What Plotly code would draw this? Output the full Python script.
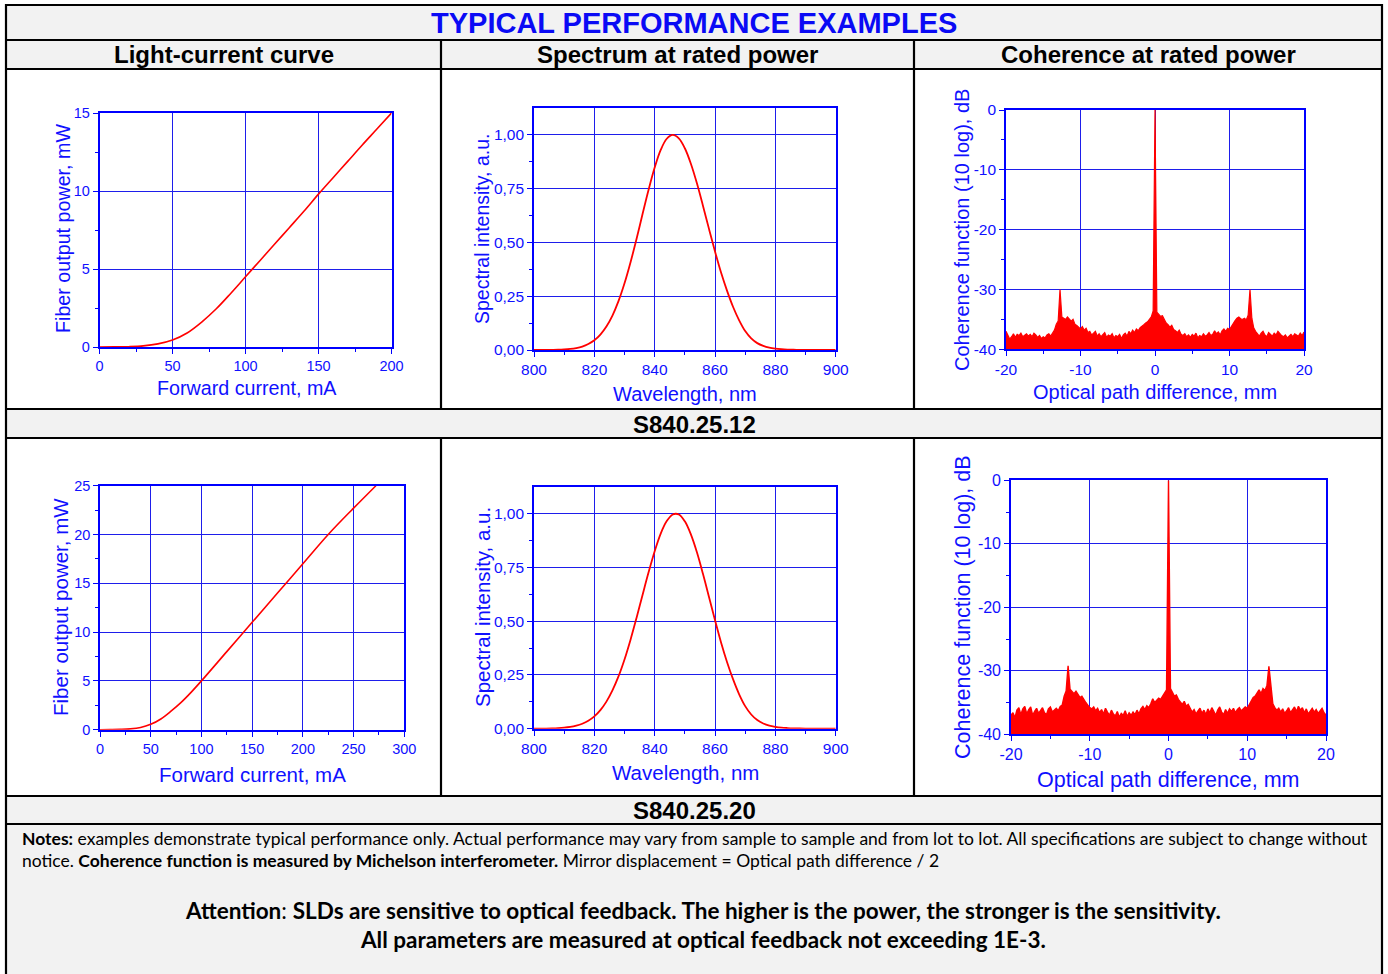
import numpy as np
import plotly.graph_objects as go

W, H = 1388, 974

# ---------------- data ----------------
li1_current = [0, 10, 20, 30, 40, 50, 60, 70, 80, 90, 100, 110, 120, 130, 140, 150, 160, 170, 180, 190, 200]
li1_power = [0, 0.005, 0.02, 0.07, 0.2, 0.45, 0.9, 1.6, 2.45, 3.45, 4.5, 5.55, 6.6, 7.65, 8.7, 9.8,
             10.85, 11.9, 12.95, 13.97, 15.0]

li2_current = [0, 10, 20, 30, 40, 50, 60, 70, 80, 90, 100, 125, 150, 175, 200, 225, 250, 272]
li2_power = [0, 0.01, 0.03, 0.08, 0.22, 0.55, 1.1, 1.9, 2.8, 3.85, 5.0, 8.0, 11.0, 14.0, 17.0, 20.0, 22.7, 25.0]

wavelength = [800, 802, 804, 806, 808, 810, 812, 814, 816, 818, 820, 822, 824, 826, 828, 830, 832, 834,
              836, 838, 840, 842, 844, 846, 848, 850, 852, 854, 856, 858, 860, 862, 864, 866, 868, 870,
              872, 874, 876, 878, 880, 882, 884, 886, 888, 890, 892, 894, 896, 898, 900]
spec1 = [0.0001, 0.00014, 0.0003, 0.00066, 0.0013, 0.0027, 0.005, 0.0092, 0.016, 0.0276, 0.045, 0.0716,
         0.109, 0.160, 0.227, 0.310, 0.408, 0.517, 0.633, 0.746, 0.848, 0.930, 0.982, 1.0, 0.984, 0.938,
         0.866, 0.775, 0.671, 0.563, 0.458, 0.360, 0.275, 0.200, 0.138, 0.088, 0.054, 0.032, 0.019, 0.011,
         0.0065, 0.0038, 0.0022, 0.0013, 0.0008, 0.0005, 0.0003, 0.0002, 0.0001, 0.0001, 0.0001]
spec2 = [0.0002, 0.0004, 0.0007, 0.0014, 0.0026, 0.0047, 0.0082, 0.014, 0.0232, 0.0371, 0.0576, 0.0866,
         0.126, 0.178, 0.243, 0.322, 0.414, 0.516, 0.623, 0.728, 0.825, 0.907, 0.965, 0.996, 0.996, 0.964,
         0.903, 0.820, 0.720, 0.612, 0.504, 0.401, 0.309, 0.229, 0.160, 0.105, 0.066, 0.040, 0.024, 0.014,
         0.0085, 0.005, 0.003, 0.0017, 0.001, 0.0006, 0.0004, 0.0003, 0.0002, 0.0001, 0.0001]

coh1 = [
    -37.0, -37.8, -38.3, -37.9, -37.4, -38.0, -37.5, -37.7, -37.3, -37.9, -37.6, -37.4,
    -37.8, -37.5, -37.9, -37.3, -37.6, -38.0, -37.7, -38.2, -37.9, -38.1, -37.6, -37.4,
    -37.8, -37.2, -36.8, -35.8, -35.3, -30.0, -34.6, -34.8, -35.0, -34.6, -34.9, -35.3,
    -35.0, -35.8, -36.0, -36.4, -36.6, -36.2, -36.8, -36.5, -37.2, -37.0, -37.6, -37.3,
    -37.0, -37.8, -37.4, -37.9, -37.5, -37.2, -38.0, -37.6, -37.8, -37.4, -38.1, -37.7,
    -37.9, -37.5, -38.2, -37.6, -37.3, -37.8, -37.0, -37.4, -36.8, -37.2, -36.6, -36.9,
    -36.4, -36.2, -35.9, -35.6, -35.4, -35.0, -34.6, -33.6,
    0.0,
    -33.8, -34.2, -34.5, -34.4, -35.0, -35.6, -35.9, -36.3, -36.0, -36.7, -36.9, -37.2,
    -36.8, -37.5, -37.7, -37.4, -37.9, -37.6, -38.0, -37.5, -37.8, -37.3, -38.1, -37.7,
    -37.9, -37.4, -37.8, -37.6, -37.2, -37.7, -37.5, -36.9, -37.4, -37.1, -37.6, -36.9,
    -36.6, -37.0, -36.5, -36.7, -36.2, -35.6, -35.2, -34.8, -34.6, -34.9, -35.0, -34.8,
    -35.1, -34.3, -30.0, -34.8, -36.4, -37.0, -37.4, -37.8, -37.3, -37.0, -37.6, -37.9,
    -37.2, -37.5, -37.8, -37.3, -37.6, -37.0, -37.4, -37.7, -37.9, -37.6, -38.1, -37.8,
    -37.5, -37.9, -37.4, -37.6, -37.8, -37.3, -37.7, -37.1]
coh2 = [
    -37.0, -36.6, -37.4, -36.2, -35.8, -36.9, -36.0, -35.6, -36.8, -36.1, -35.7, -37.0,
    -36.4, -35.9, -36.7, -36.2, -35.8, -36.6, -36.9, -36.0, -35.7, -36.5, -36.2, -35.9,
    -36.3, -35.6, -35.4, -34.0, -33.2, -29.2, -32.9, -33.3, -33.6, -33.2, -33.8, -34.2,
    -34.0, -34.6, -35.0, -35.4, -35.8, -36.0, -35.7, -36.3, -35.9, -36.6, -36.1, -36.8,
    -35.9, -36.5, -37.0, -36.2, -36.8, -37.1, -36.4, -37.3, -36.7, -37.0, -36.3, -37.2,
    -36.6, -37.0, -36.5, -36.9, -36.2, -36.8, -36.0, -35.6, -36.1, -35.5, -35.8, -35.2,
    -34.4, -35.0, -34.7, -34.3, -34.5, -34.0, -33.7, -33.0,
    0.0,
    -32.8, -33.4, -34.0, -33.8, -34.5, -34.9, -35.3, -34.8, -35.6, -35.3, -36.0, -36.5,
    -36.1, -36.8, -36.3, -35.9, -36.7, -36.2, -36.9, -36.0, -36.6, -35.8, -36.4, -37.0,
    -36.2, -35.7, -36.5, -36.9, -36.1, -36.7, -36.0, -36.4, -35.9, -36.6, -36.1, -35.8,
    -36.3, -36.0, -35.7, -35.9, -35.3, -34.8, -34.2, -34.0, -33.4, -33.0, -33.6, -32.8,
    -33.1, -32.3, -29.3, -32.6, -35.2, -35.8, -36.2, -35.9, -36.5, -36.0, -36.7, -36.3,
    -35.8, -36.6, -36.1, -35.7, -36.4, -35.6, -36.2, -35.8, -36.6, -36.0, -36.8, -36.3,
    -35.9, -36.5, -36.1, -36.7, -36.2, -35.9, -36.6, -37.0]
opd1 = np.linspace(-20, 20, len(coh1))
opd2 = np.linspace(-20, 20, len(coh2))

li1_xticks = [0, 50, 100, 150, 200]
li1_yticks = [0, 5, 10, 15]
li2_xticks = [0, 50, 100, 150, 200, 250, 300]
li2_yticks = [0, 5, 10, 15, 20, 25]
spec_xticks = [800, 820, 840, 860, 880, 900]
spec_yticks = [0, 0.25, 0.5, 0.75, 1.0]
spec_yticktext = ["0,00", "0,25", "0,50", "0,75", "1,00"]
coh_xticks = [-20, -10, 0, 10, 20]
coh_xticktext = ["-20", "-10", "0", "10", "20"]
coh_yticks = [-40, -30, -20, -10, 0]
coh_yticktext = ["-40", "-30", "-20", "-10", "0"]

headers = ["Light-current curve", "Spectrum at rated power", "Coherence at rated power"]
models = ["S840.25.12", "S840.25.20"]

# ---------------- styling ----------------
AF = "Liberation Sans, Arial, sans-serif"
BLUE = "#0000ff"
GRID = "rgb(30,30,235)"
TXT = "#1010ff"
RED = "#ff0000"


def px_x(x):
    return x / W


def px_y(y):
    return 1 - y / H


def dom(x0, x1, y0, y1):
    return [px_x(x0), px_x(x1)], [px_y(y1), px_y(y0)]


def axis(domain, rng, tv, tt, minor_vals, anchor, fs):
    return dict(domain=domain, range=rng, tickmode="array", tickvals=tv, ticktext=tt,
                showgrid=True, gridcolor=GRID, gridwidth=1, showline=True, linecolor=BLUE,
                linewidth=1.6, mirror=True, ticks="outside", ticklen=5, tickwidth=1, tickcolor=BLUE,
                tickfont=dict(family=AF, size=fs, color=TXT), zeroline=False, anchor=anchor,
                fixedrange=True, automargin=False,
                minor=dict(ticks="outside", ticklen=3, tickwidth=1, tickcolor=BLUE,
                           tickmode="array", tickvals=minor_vals, showgrid=False))


fig = go.Figure()

# traces
fig.add_trace(go.Scatter(x=li1_current, y=li1_power, mode="lines", line=dict(color=RED, width=1.6, shape="spline"),
                         xaxis="x", yaxis="y"))
fig.add_trace(go.Scatter(x=wavelength, y=spec1, mode="lines", line=dict(color=RED, width=1.8, shape="spline"),
                         xaxis="x2", yaxis="y2"))
fig.add_trace(go.Scatter(x=opd1, y=[-40] * len(opd1), mode="lines", line=dict(width=0, color=RED),
                         xaxis="x3", yaxis="y3"))
fig.add_trace(go.Scatter(x=opd1, y=coh1, mode="lines", line=dict(color=RED, width=1.2), fill="tonexty",
                         fillcolor=RED, xaxis="x3", yaxis="y3"))
fig.add_trace(go.Scatter(x=li2_current, y=li2_power, mode="lines", line=dict(color=RED, width=1.6, shape="spline"),
                         xaxis="x4", yaxis="y4"))
fig.add_trace(go.Scatter(x=wavelength, y=spec2, mode="lines", line=dict(color=RED, width=1.8, shape="spline"),
                         xaxis="x5", yaxis="y5"))
fig.add_trace(go.Scatter(x=opd2, y=[-40] * len(opd2), mode="lines", line=dict(width=0, color=RED),
                         xaxis="x6", yaxis="y6"))
fig.add_trace(go.Scatter(x=opd2, y=coh2, mode="lines", line=dict(color=RED, width=1.4), fill="tonexty",
                         fillcolor=RED, xaxis="x6", yaxis="y6"))

d1x, d1y = dom(99.5, 391.5, 113, 347)
d2x, d2y = dom(534, 835.7, 108, 350)
d3x, d3y = dom(1006, 1304, 110, 349.3)
d4x, d4y = dom(100, 404.3, 485.7, 729.7)
d5x, d5y = dom(534, 835.7, 486.7, 728.7)
d6x, d6y = dom(1011, 1326, 480.3, 734.3)

layout = dict(
    width=W, height=H, margin=dict(l=0, r=0, t=0, b=0, pad=0, autoexpand=False), showlegend=False,
    autosize=False, paper_bgcolor="white", plot_bgcolor="white",
    xaxis=axis(d1x, [0, 200], li1_xticks, [str(v) for v in li1_xticks], [25, 75, 125, 175], "y", 14.5),
    yaxis=axis(d1y, [0, 15], li1_yticks, [str(v) for v in li1_yticks], [2.5, 7.5, 12.5], "x", 14.5),
    xaxis2=axis(d2x, [800, 900], spec_xticks, [str(v) for v in spec_xticks], [810, 830, 850, 870, 890], "y2", 15.5),
    yaxis2=axis(d2y, [0, 1.125], spec_yticks, spec_yticktext, [0.125, 0.375, 0.625, 0.875], "x2", 15.5),
    xaxis3=axis(d3x, [-20, 20], coh_xticks, coh_xticktext, [-15, -5, 5, 15], "y3", 15.5),
    yaxis3=axis(d3y, [-40, 0], coh_yticks, coh_yticktext, [-35, -25, -15, -5], "x3", 15.5),
    xaxis4=axis(d4x, [0, 300], li2_xticks, [str(v) for v in li2_xticks], [25, 75, 125, 175, 225, 275], "y4", 14.5),
    yaxis4=axis(d4y, [0, 25], li2_yticks, [str(v) for v in li2_yticks], [2.5, 7.5, 12.5, 17.5, 22.5], "x4", 14.5),
    xaxis5=axis(d5x, [800, 900], spec_xticks, [str(v) for v in spec_xticks], [810, 830, 850, 870, 890], "y5", 15.5),
    yaxis5=axis(d5y, [0, 1.125], spec_yticks, spec_yticktext, [0.125, 0.375, 0.625, 0.875], "x5", 15.5),
    xaxis6=axis(d6x, [-20, 20], coh_xticks, coh_xticktext, [-15, -5, 5, 15], "y6", 16),
    yaxis6=axis(d6y, [-40, 0], coh_yticks, coh_yticktext, [-35, -25, -15, -5], "x6", 16),
)
fig.update_layout(**layout)

# ---------------- table background & borders ----------------
GRAY = "#f2f2f2"
shapes = []
for (y0, y1) in [(5, 40), (40, 69), (409, 438), (796, 824), (824, 980)]:
    shapes.append(dict(type="rect", xref="paper", yref="paper", x0=px_x(6), x1=px_x(1382),
                       y0=px_y(y1), y1=px_y(y0), fillcolor=GRAY, line=dict(width=0), layer="below"))
for y in [5, 40, 69, 409, 438, 796, 824]:
    shapes.append(dict(type="line", xref="paper", yref="paper", x0=px_x(5), x1=px_x(1383),
                       y0=px_y(y), y1=px_y(y), line=dict(color="black", width=2.2)))
for x in [6, 1382]:
    shapes.append(dict(type="line", xref="paper", yref="paper", x0=px_x(x), x1=px_x(x),
                       y0=px_y(4), y1=px_y(980), line=dict(color="black", width=2.2)))
for x in [441, 914]:
    for (y0, y1) in [(40, 409), (438, 796)]:
        shapes.append(dict(type="line", xref="paper", yref="paper", x0=px_x(x), x1=px_x(x),
                           y0=px_y(y0), y1=px_y(y1), line=dict(color="black", width=2.2)))
fig.update_layout(shapes=shapes)

# ---------------- text ----------------
ann = []


def text(x, y, s, size, color="black", family=AF, xanchor="center", angle=0):
    ann.append(dict(x=px_x(x), y=px_y(y), xref="paper", yref="paper", text=s, showarrow=False,
                    xanchor=xanchor, yanchor="middle", textangle=angle,
                    font=dict(family=family, size=size, color=color)))


text(694, 23, "<b>TYPICAL PERFORMANCE EXAMPLES</b>", 29, color="#0a0af5")
text(223.5, 55, "<b>" + headers[0] + "</b>", 24)
text(677.5, 55, "<b>" + headers[1] + "</b>", 24)
text(1148, 55, "<b>" + headers[2] + "</b>", 24)
text(694, 424, "<b>" + models[0] + "</b>", 24)
text(694, 810, "<b>" + models[1] + "</b>", 24)

# axis titles
text(247, 388, "Forward current, mA", 19.7, color=TXT)
text(63, 229, "Fiber output power, mW", 19.7, color=TXT, angle=-90)
text(685, 394, "Wavelength, nm", 20, color=TXT)
text(482, 229, "Spectral intensity, a.u.", 19.5, color=TXT, angle=-90)
text(1155, 392, "Optical path difference, mm", 20, color=TXT)
text(962, 230, "Coherence function (10 log), dB", 20, color=TXT, angle=-90)
text(252, 774, "Forward current, mA", 20.5, color=TXT)
text(60, 607, "Fiber output power, mW", 20.5, color=TXT, angle=-90)
text(685, 772, "Wavelength, nm", 20.5, color=TXT)
text(482, 607, "Spectral intensity, a.u.", 20.5, color=TXT, angle=-90)
text(1168, 780, "Optical path difference, mm", 21.5, color=TXT)
text(963, 607, "Coherence function (10 log), dB", 21.5, color=TXT, angle=-90)

NF = "Lato, Carlito, Calibri, sans-serif"
text(20, 838, "<b>Notes:</b> examples demonstrate typical performance only. Actual performance may vary from sample "
              "to sample and from lot to lot. All specifications are subject to change without", 17.5,
     family=NF, xanchor="left")
text(20, 860, "notice. <b>Coherence function is measured by Michelson interferometer.</b> Mirror displacement = "
              "Optical path difference / 2", 17.5, family=NF, xanchor="left")
text(703, 910, "<b>Attention</b>: <b>SLDs are sensitive to optical feedback. The higher is the power, the stronger "
               "is the sensitivity.</b>", 22.5, family=NF)
text(703, 939, "<b>All parameters are measured at optical feedback not exceeding 1E-3.</b>", 22.5, family=NF)

fig.update_layout(annotations=ann)

fig.write_html("out.html", config={"displayModeBar": False, "responsive": False},
               post_script="document.body.style.margin='0px';document.body.style.overflow='hidden';")
